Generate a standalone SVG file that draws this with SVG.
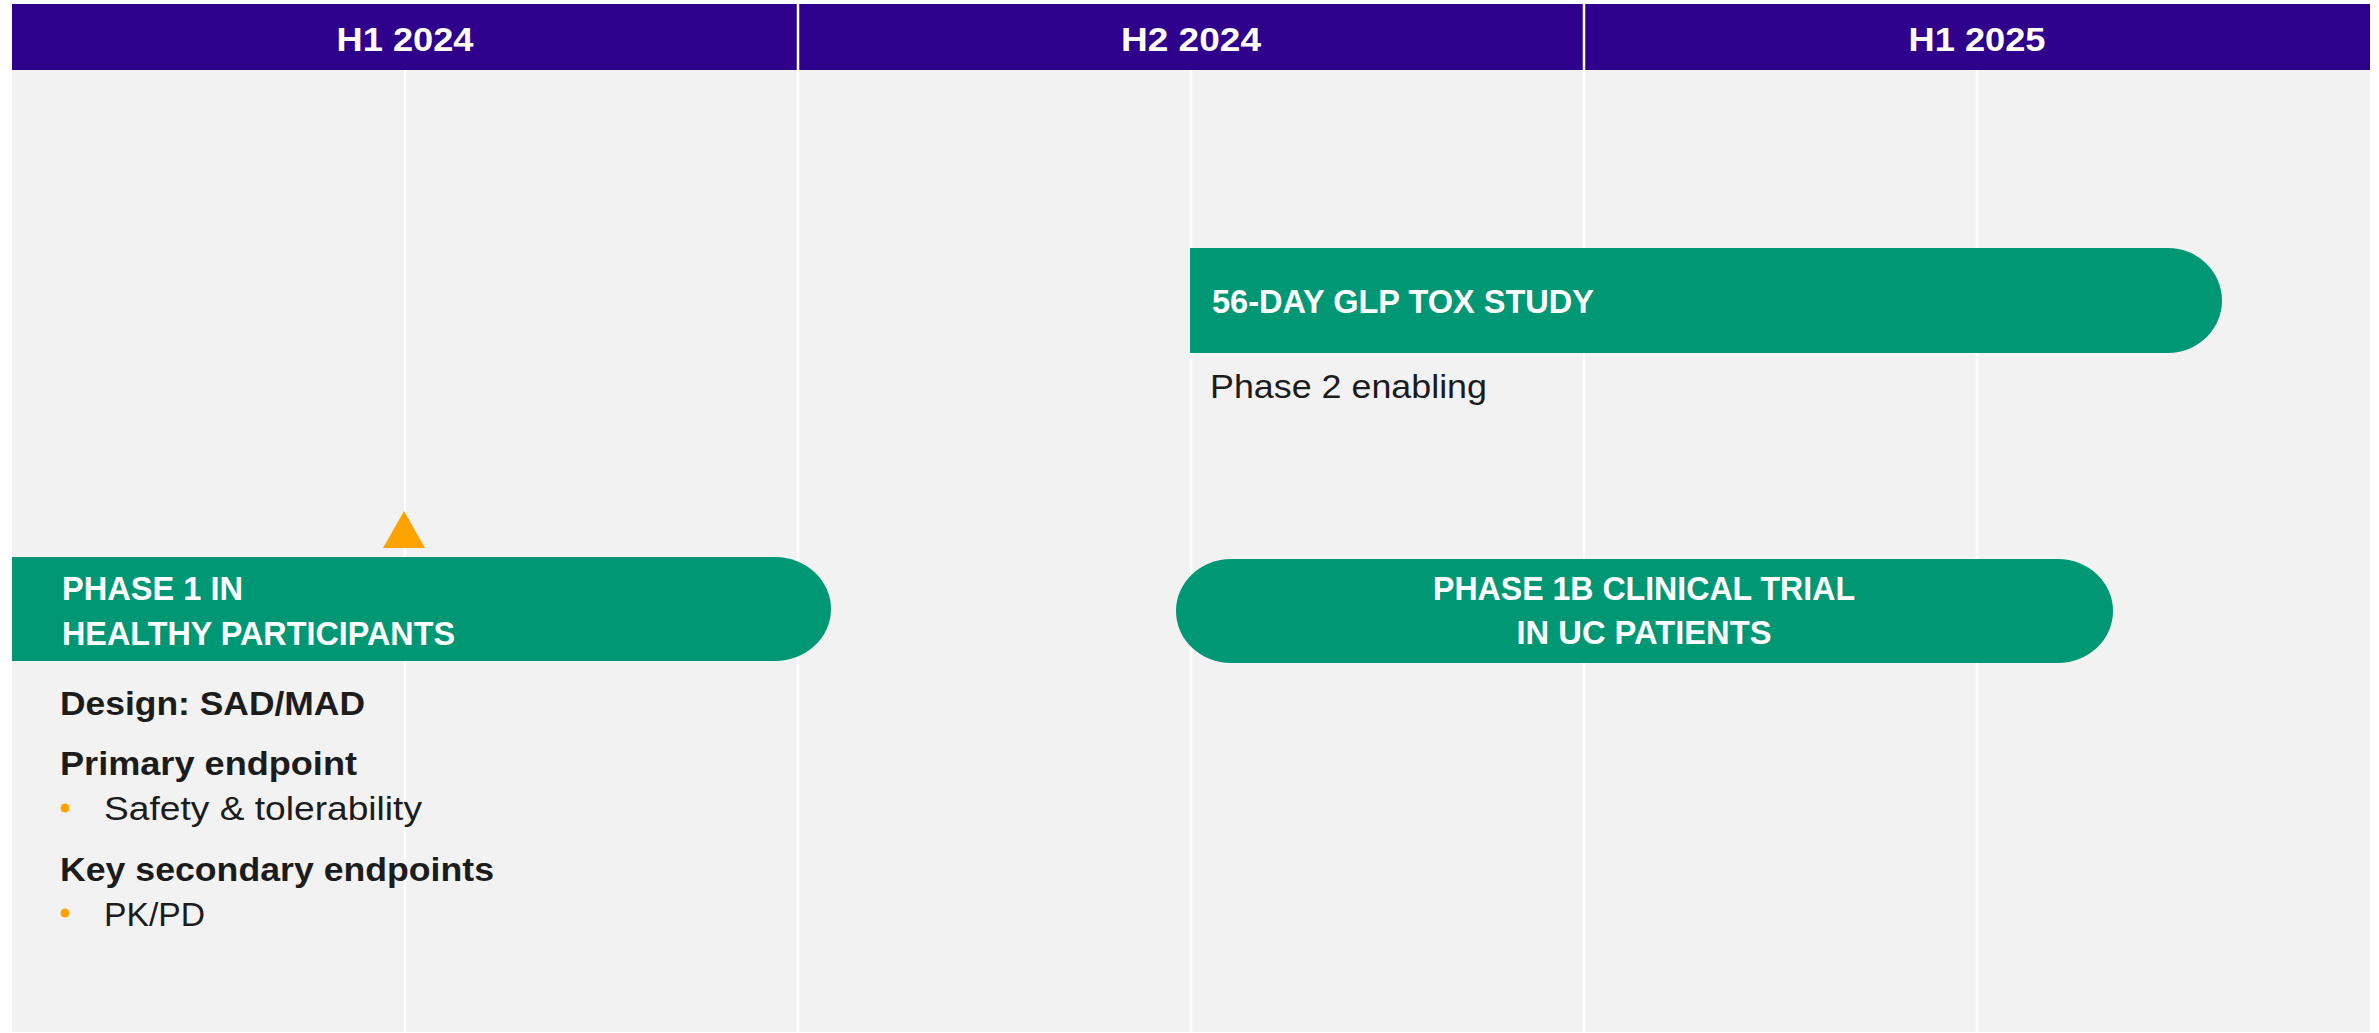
<svg xmlns="http://www.w3.org/2000/svg" width="2379" height="1033" viewBox="0 0 2379 1033">
  <style>
    .hdr { fill: #2E008B; }
    .hdr-t { font-family: "Liberation Sans", Arial, sans-serif; font-weight: bold; font-size: 34px; fill: #FFFFFF; text-anchor: middle; }
    .grid { stroke: #FFFFFF; stroke-width: 2.5; }
    .bar { fill: #009874; }
    .bar-t { font-family: "Liberation Sans", Arial, sans-serif; font-weight: bold; font-size: 34px; fill: #FFFFFF; }
    .note { font-family: "Liberation Sans", Arial, sans-serif; font-size: 34px; fill: #1C1C1C; }
    .note-b { font-family: "Liberation Sans", Arial, sans-serif; font-size: 34px; font-weight: bold; fill: #1C1C1C; }
    .dot { fill: #FFA300; }
  </style>

  <!-- timeline canvas -->
  <rect x="12" y="70" width="2358" height="962" fill="#F2F2F2"/>

  <!-- half-year header band -->
  <g id="header">
    <rect class="hdr" x="12" y="4" width="2358" height="66"/>
    <text class="hdr-t" x="405" y="51" textLength="137" lengthAdjust="spacingAndGlyphs">H1 2024</text>
    <text class="hdr-t" x="1191" y="51" textLength="140" lengthAdjust="spacingAndGlyphs">H2 2024</text>
    <text class="hdr-t" x="1977" y="51" textLength="137" lengthAdjust="spacingAndGlyphs">H1 2025</text>
  </g>

  <!-- column and quarter grid lines -->
  <g id="grid">
    <line class="grid" x1="798" y1="4" x2="798" y2="1032"/>
    <line class="grid" x1="1584" y1="4" x2="1584" y2="1032"/>
    <line class="grid" x1="405" y1="70" x2="405" y2="1032"/>
    <line class="grid" x1="1191" y1="70" x2="1191" y2="1032"/>
    <line class="grid" x1="1977" y1="70" x2="1977" y2="1032"/>
  </g>

  <!-- Phase 1 in healthy participants -->
  <g id="phase1">
    <polygon points="404,511 425,548 383,548" fill="#FFA300"/>
    <path class="bar" d="M12,557 H775 A56,52 0 0 1 775,661 H12 Z"/>
    <text class="bar-t" x="62" y="600" textLength="181" lengthAdjust="spacingAndGlyphs">PHASE 1 IN</text>
    <text class="bar-t" x="62" y="645" textLength="393" lengthAdjust="spacingAndGlyphs">HEALTHY PARTICIPANTS</text>
  </g>

  <!-- Phase 1 study details -->
  <g id="phase1-details">
    <text class="note-b" x="60" y="715" textLength="305" lengthAdjust="spacingAndGlyphs">Design: SAD/MAD</text>
    <text class="note-b" x="60" y="775" textLength="297" lengthAdjust="spacingAndGlyphs">Primary endpoint</text>
    <circle class="dot" cx="65" cy="808" r="4.5"/>
    <text class="note" x="104" y="820" textLength="318" lengthAdjust="spacingAndGlyphs">Safety &amp; tolerability</text>
    <text class="note-b" x="60" y="881" textLength="434" lengthAdjust="spacingAndGlyphs">Key secondary endpoints</text>
    <circle class="dot" cx="65" cy="913" r="4.5"/>
    <text class="note" x="104" y="926" textLength="101" lengthAdjust="spacingAndGlyphs">PK/PD</text>
  </g>

  <!-- 56-day GLP tox study -->
  <g id="tox-study">
    <path class="bar" d="M1190,248 H2168 A54,52.5 0 0 1 2168,353 H1190 Z"/>
    <text class="bar-t" x="1212" y="313" textLength="382" lengthAdjust="spacingAndGlyphs">56-DAY GLP TOX STUDY</text>
    <text class="note" x="1210" y="398" textLength="277" lengthAdjust="spacingAndGlyphs">Phase 2 enabling</text>
  </g>

  <!-- Phase 1b clinical trial -->
  <g id="phase1b">
    <path class="bar" d="M1231,559 H2058 A55,52 0 0 1 2058,663 H1231 A55,52 0 0 1 1231,559 Z"/>
    <text class="bar-t" x="1644" y="600" text-anchor="middle" textLength="422" lengthAdjust="spacingAndGlyphs">PHASE 1B CLINICAL TRIAL</text>
    <text class="bar-t" x="1644" y="644" text-anchor="middle" textLength="255" lengthAdjust="spacingAndGlyphs">IN UC PATIENTS</text>
  </g>
</svg>
